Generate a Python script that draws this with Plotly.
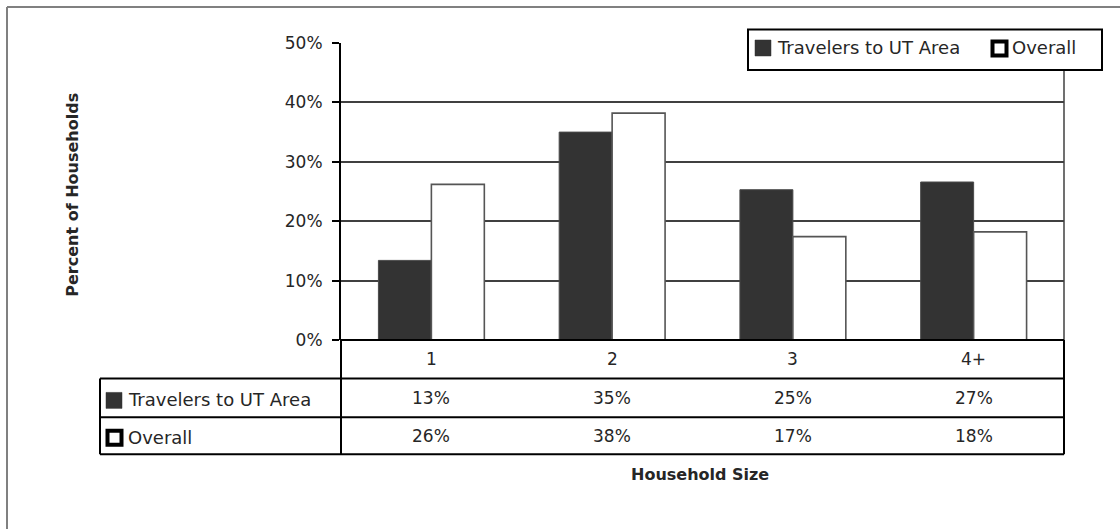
import plotly.graph_objects as go

# Household size distribution (percent of households)
categories = ["1", "2", "3", "4+"]
series_names = ["Travelers to UT Area", "Overall"]
travelers = [13.4, 35.0, 25.3, 26.6]
overall = [26.2, 38.2, 17.4, 18.2]
y_ticks = [0, 10, 20, 30, 40, 50]
y_tick_labels = [f"{v}%" for v in y_ticks]

W, H = 1120, 529
# plot area in pixels
L, R, T, B = 341, 1064, 43, 340.5
FONT = "DejaVu Sans"
FS = 17
NAME_FS = 18
TXT = "#262626"
DARK = "#333333"


def px(x):
    return (x - L) / (R - L)


def py(y):
    return (B - y) / (B - T)


fig = go.Figure()
fig.add_trace(go.Bar(
    x=categories, y=travelers, name=series_names[0],
    marker=dict(color=DARK, line=dict(color="#4a4a4a", width=1)),
    showlegend=False,
))
fig.add_trace(go.Bar(
    x=categories, y=overall, name=series_names[1],
    marker=dict(color="white", line=dict(color="#555555", width=1.6)),
    showlegend=False,
))

shapes = []


def line(x0, y0, x1, y1, color="black", width=2, layer="above"):
    shapes.append(dict(type="line", xref="paper", yref="paper",
                       x0=px(x0), y0=py(y0), x1=px(x1), y1=py(y1),
                       line=dict(color=color, width=width), layer=layer))


def box(x0, y0, x1, y1, fill, color, width):
    shapes.append(dict(type="rect", xref="paper", yref="paper",
                       x0=px(x0), y0=py(y0), x1=px(x1), y1=py(y1),
                       fillcolor=fill, line=dict(color=color, width=width),
                       layer="above"))


# outer chart border
line(7, 7, 7, 560, color="#808080", width=2)
line(7, 7, 1140, 7, color="#808080", width=2)

# right border of plot area
line(R, T, R, B, color="#404040", width=1.5, layer="below")

# data table grid
rows_y = [B, 379, 418, 455]
line(L, B, R, B)
for yy in rows_y[1:]:
    line(100, yy, R, yy)
line(100, 379, 100, 455)
line(L, B, L, 455)
line(R, B, R, 455)

annotations = []


def text(x, y, s, xanchor="center", size=FS, bold=False, xref="paper"):
    annotations.append(dict(
        x=x if xref != "paper" else px(x), y=py(y), xref=xref, yref="paper",
        text=f"<b>{s}</b>" if bold else s, showarrow=False,
        xanchor=xanchor, yanchor="middle",
        font=dict(family=FONT, size=size, color=TXT)))


def dark_key(x, y):
    box(x, y, x + 16, y + 16, DARK, DARK, 0.5)


def white_key(x, y):
    box(x + 1.5, y + 1.5, x + 15.5, y + 15.5, "white", "black", 4)


# category labels and table values (positioned by category index)
for i, c in enumerate(categories):
    text(i, 360, c, xref="x")
    text(i, 399, f"{travelers[i]:.0f}%", xref="x")
    text(i, 437, f"{overall[i]:.0f}%", xref="x")

# table row headers
dark_key(106, 393)
text(126, 400, series_names[0], xanchor="left", size=NAME_FS)
white_key(106, 430)
text(126, 438, series_names[1], xanchor="left", size=NAME_FS)

# legend
box(748, 29.5, 1102, 70, "white", "black", 2)
dark_key(755, 40)
text(775, 48, series_names[0], xanchor="left", size=NAME_FS)
white_key(991, 40)
text(1010, 48, series_names[1], xanchor="left", size=NAME_FS)

# axis titles
text(700, 475, "Household Size", bold=True, size=16)
annotations.append(dict(
    x=px(73), y=py(195), xref="paper", yref="paper",
    text="<b>Percent of Households</b>", showarrow=False, textangle=-90,
    xanchor="center", yanchor="middle",
    font=dict(family=FONT, size=16, color=TXT)))

fig.update_layout(
    width=W, height=H,
    margin=dict(l=L, r=W - R, t=T, b=H - B, pad=0),
    paper_bgcolor="white", plot_bgcolor="white",
    barmode="group", bargap=0.414, bargroupgap=0,
    font=dict(family=FONT, size=FS, color=TXT),
    shapes=shapes, annotations=annotations,
    xaxis=dict(type="category", categoryorder="array",
               categoryarray=categories,
               showticklabels=False, ticks="", showgrid=False,
               zeroline=False, showline=False),
    yaxis=dict(range=[0, 50], tickvals=y_ticks, ticktext=y_tick_labels,
               showgrid=True, gridcolor="#404040", gridwidth=1.5,
               zeroline=False, showline=True, linecolor="black",
               linewidth=2, ticks="outside", ticklen=7, tickwidth=2,
               tickcolor="black", ticklabelstandoff=6,
               tickfont=dict(family=FONT, size=FS, color=TXT)),
)

fig.write_html("out.html")
